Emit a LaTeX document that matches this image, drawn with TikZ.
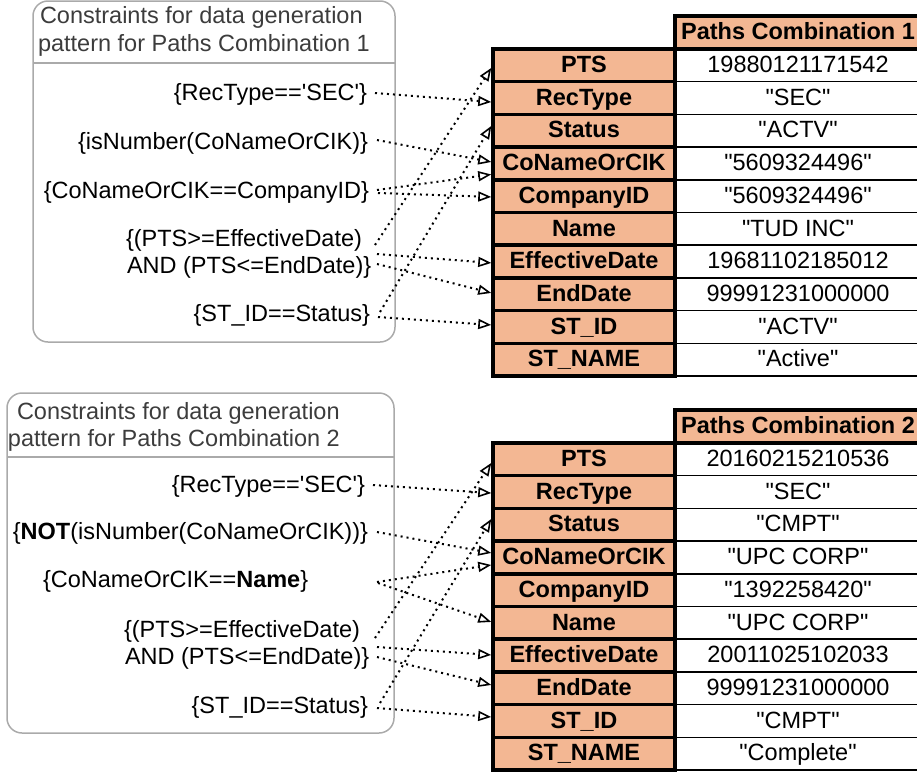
\documentclass[tikz,border=0pt]{standalone}
\usepackage{fontspec}
\setmainfont{Liberation Sans}
\usetikzlibrary{arrows.meta,calc}
\definecolor{salmon}{RGB}{243,183,147}
\definecolor{boxgray}{RGB}{170,170,170}
\definecolor{hdrtext}{RGB}{60,60,60}
\newcommand{\qq}[1]{\textquotedbl#1\textquotedbl}
\begin{document}
\begin{tikzpicture}[x=1pt,y=-1pt,
  every node/.style={font=\fontsize{23.5}{27}\selectfont, inner sep=0pt, outer sep=0pt},
  keycell/.style={draw=black, line width=3.5pt, fill=salmon, minimum width=182pt, minimum height=32.7pt,
    outer sep=1.75pt, text height=19pt, text depth=4.7pt, font=\fontsize{23.5}{27}\selectfont\bfseries},
  valcell/.style={draw=black, line width=1.5pt, fill=white, minimum width=246pt, minimum height=32.7pt,
    text height=19pt, text depth=4.7pt},
  hdrcell/.style={draw=black, line width=3.5pt, fill=salmon, minimum width=246pt, minimum height=33pt,
    text height=19pt, text depth=4.7pt, font=\fontsize{23.5}{27}\selectfont\bfseries},
  cbox/.style={draw=boxgray, line width=1.5pt, rounded corners=15pt},
  hdr/.style={anchor=base west, text=hdrtext},
  lab/.style={text=black},
  dep/.style={line width=2pt, dash pattern=on 2pt off 4pt,
    -{Triangle[fill=white,length=13pt,width=10pt,line width=1.6pt]}},
]
\useasboundingbox (0,0) rectangle (917,774);

% ---------- constraint boxes ----------
\draw[cbox] (33,1) rectangle (395,342);
\draw[boxgray, line width=1.5pt] (33,63) -- (395,63);
\draw[cbox] (7,393) rectangle (394,733);
\draw[boxgray, line width=1.5pt] (7,457) -- (394,457);

\node[hdr] (h1a) at (40,23) {Constraints for data generation};
\node[hdr] (h1b) at (38,51) {pattern for Paths Combination 1};
\node[hdr] (h2a) at (17,419) {Constraints for data generation};
\node[hdr] (h2b) at (8,446) {pattern for Paths Combination 2};

% ---------- table 1 ----------
\foreach \v [count=\i from 0] in {19880121171542,\qq{SEC},\qq{ACTV},\qq{5609324496},\qq{5609324496},\qq{TUD INC},19681102185012,99991231000000,\qq{ACTV},\qq{Active}}
  \node[valcell] (v1-\i) at (798,{49+(\i+0.5)*32.7}) {\v};
\foreach \k [count=\i from 0] in {PTS,RecType,Status,CoNameOrCIK,CompanyID,Name,EffectiveDate,EndDate,ST\_ID,ST\_NAME}
  \node[keycell] (k1-\i) at (584,{49+(\i+0.5)*32.7}) {\k};
\node[hdrcell] (hd1) at (798,32.5) {Paths Combination 1};

% ---------- table 2 ----------
\foreach \v [count=\i from 0] in {20160215210536,\qq{SEC},\qq{CMPT},\qq{UPC CORP},\qq{1392258420},\qq{UPC CORP},20011025102033,99991231000000,\qq{CMPT},\qq{Complete}}
  \node[valcell] (v2-\i) at (798,{443+(\i+0.5)*32.7}) {\v};
\foreach \k [count=\i from 0] in {PTS,RecType,Status,CoNameOrCIK,CompanyID,Name,EffectiveDate,EndDate,ST\_ID,ST\_NAME}
  \node[keycell] (k2-\i) at (584,{443+(\i+0.5)*32.7}) {\k};
\node[hdrcell] (hd2) at (798,426.5) {Paths Combination 2};

% ---------- labels, box 1 ----------
\node[lab, anchor=base east] (l1rec) at (367,100) {\{RecType==\textquotesingle SEC\textquotesingle\}};
\node[lab, anchor=base east] (l1num) at (368,149) {\{isNumber(CoNameOrCIK)\}};
\node[lab, anchor=base east] (l1cid) at (369,198) {\{CoNameOrCIK==CompanyID\}};
\node[lab, anchor=base west] (l1ptsa) at (126,246) {\{(PTS>=EffectiveDate)};
\node[lab, anchor=base west] (l1ptsb) at (127,273) {AND (PTS<=EndDate)\}};
\node[lab, anchor=base east] (l1st) at (370,321) {\{ST\_ID==Status\}};

% ---------- labels, box 2 ----------
\node[lab, anchor=base east] (l2rec) at (365,492) {\{RecType==\textquotesingle SEC\textquotesingle\}};
\node[lab, anchor=base east] (l2num) at (368,539) {\{\textbf{NOT}(isNumber(CoNameOrCIK))\}};
\node[lab, anchor=base west] (l2name) at (43,587) {\{CoNameOrCIK==\textbf{Name}\}};
\node[lab, anchor=base west] (l2ptsa) at (124,637) {\{(PTS>=EffectiveDate)};
\node[lab, anchor=base west] (l2ptsb) at (125,664) {AND (PTS<=EndDate)\}};
\node[lab, anchor=base east] (l2st) at (368,713) {\{ST\_ID==Status\}};

% ---------- connector start points ----------
\coordinate (s1rec) at (375,93);
\coordinate (s1num) at (377,140);
\coordinate (s1cidA) at (377,190);
\coordinate (s1cidB) at (378,193);
\coordinate (s1ptsA) at (375,245);
\coordinate (s1ptsB) at (377,254);
\coordinate (s1ptsC) at (377,264);
\coordinate (s1stA) at (380,312);
\coordinate (s1stB) at (378,317);

\coordinate (s2rec) at (373,485);
\coordinate (s2num) at (377,532);
\coordinate (s2nameA) at (377,582);
\coordinate (s2nameB) at (378,583);
\coordinate (s2ptsA) at (375,638);
\coordinate (s2ptsB) at (377,647);
\coordinate (s2ptsC) at (377,657);
\coordinate (s2stA) at (380,703);
\coordinate (s2stB) at (377,708);

% ---------- connectors, table 1 ----------
\draw[dep] (s1rec) -- ([yshift=-4pt]k1-1.west);
\draw[dep] (s1num) -- ([yshift=1.5pt]k1-3.west);
\draw[dep] (s1cidA) -- ([yshift=-11pt]k1-3.west);
\draw[dep] (s1cidB) -- ([yshift=-0.8pt]k1-4.west);
\draw[dep] (s1ptsA) -- ([yshift=-2.6pt]k1-0.west);
\draw[dep] (s1ptsB) -- ([yshift=-1.4pt]k1-6.west);
\draw[dep] (s1ptsC) -- ([yshift=1.3pt]k1-7.west);
\draw[dep] (s1stA) -- ([yshift=4.8pt]k1-2.west);
\draw[dep] (s1stB) -- ([yshift=2pt]k1-8.west);

% ---------- connectors, table 2 ----------
\draw[dep] (s2rec) -- ([yshift=-1pt]k2-1.west);
\draw[dep] (s2num) -- ([yshift=4.5pt]k2-3.west);
\draw[dep] (s2nameA) -- ([yshift=-7.5pt]k2-3.west);
\draw[dep] (s2nameB) -- ([yshift=0.9pt]k2-5.west);
\draw[dep] (s2ptsA) -- ([yshift=-3.6pt]k2-0.west);
\draw[dep] (s2ptsB) -- ([yshift=0.6pt]k2-6.west);
\draw[dep] (s2ptsC) -- ([yshift=3.3pt]k2-7.west);
\draw[dep] (s2stA) -- ([yshift=5.8pt]k2-2.west);
\draw[dep] (s2stB) -- ([yshift=4pt]k2-8.west);
\end{tikzpicture}
\end{document}
